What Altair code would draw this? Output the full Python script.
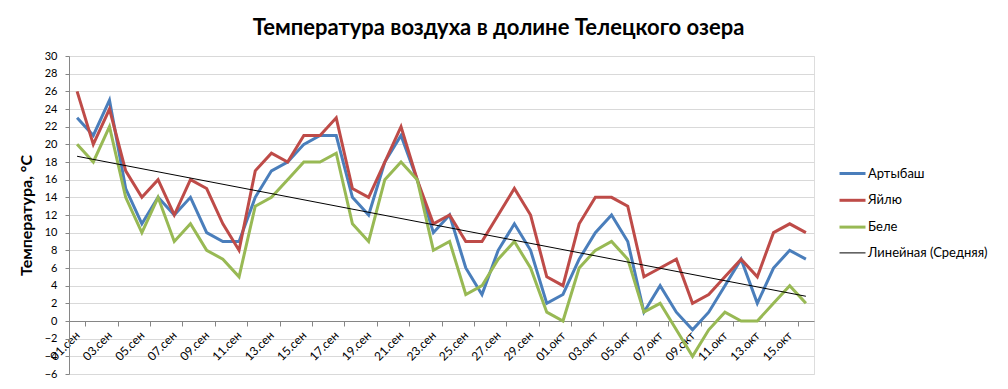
import altair as alt
import pandas as pd

dates = [
    "01.сен", "02.сен", "03.сен", "04.сен", "05.сен", "06.сен", "07.сен", "08.сен",
    "09.сен", "10.сен", "11.сен", "12.сен", "13.сен", "14.сен", "15.сен", "16.сен",
    "17.сен", "18.сен", "19.сен", "20.сен", "21.сен", "22.сен", "23.сен", "24.сен",
    "25.сен", "26.сен", "27.сен", "28.сен", "29.сен", "30.сен",
    "01.окт", "02.окт", "03.окт", "04.окт", "05.окт", "06.окт", "07.окт", "08.окт",
    "09.окт", "10.окт", "11.окт", "12.окт", "13.окт", "14.окт", "15.окт", "16.окт",
]

artybash = [23, 21, 25, 15, 11, 14, 12, 14, 10, 9, 9, 14, 17, 18, 20, 21, 21,
            14, 12, 18, 21, 16, 10, 12, 6, 3, 8, 11, 8, 2, 3, 7, 10, 12, 9, 1, 4,
            1, -1, 1, 4, 7, 2, 6, 8, 7]
yailyu = [26, 20, 24, 17, 14, 16, 12, 16, 15, 11, 8, 17, 19, 18, 21, 21, 23,
          15, 14, 18, 22, 16, 11, 12, 9, 9, 12, 15, 12, 5, 4, 11, 14, 14, 13, 5, 6,
          7, 2, 3, 5, 7, 5, 10, 11, 10]
bele = [20, 18, 22, 14, 10, 14, 9, 11, 8, 7, 5, 13, 14, 16, 18, 18, 19,
        11, 9, 16, 18, 16, 8, 9, 3, 4, 7, 9, 6, 1, 0, 6, 8, 9, 7, 1, 2,
        -1, -4, -1, 1, 0, 0, 2, 4, 2]

series_names = ["Артыбаш", "Яйлю", "Беле", "Линейная (Средняя)"]
series_colors = ["#4A7EBB", "#BE4B48", "#98B954", "#000000"]
series_widths = [3, 3, 3, 1]
y_ticks = list(range(-6, 31, 2))
x_tick_labels = dates[::2]

rows = []
for name, vals in zip(series_names[:3], [artybash, yailyu, bele]):
    for i, (d, v) in enumerate(zip(dates, vals)):
        rows.append({"idx": i, "date": d, "series": name, "value": v})
df = pd.DataFrame(rows)
idx_df = pd.DataFrame({"idx": list(range(len(dates))), "date": dates})

W, H = 745, 318
ymin, ymax = -6, 30
zero_from_bottom = H * (0 - ymin) / (ymax - ymin)

FONT = "Lato"

x_enc = alt.X(
    "date:O",
    bandPosition=0.5,
    scale=alt.Scale(type="band", domain=dates, paddingInner=0, paddingOuter=0),
    axis=alt.Axis(
        values=x_tick_labels,
        tickBand="extent",
        offset=-zero_from_bottom,
        labelAngle=-45,
        labelAlign="right",
        labelBaseline="middle",
        labelFont=FONT,
        labelFontSize=12,
        labelColor="#000000",
        labelPadding=7,
        tickSize=5,
        tickColor="#868686",
        domainColor="#868686",
        grid=False,
        title=None,
    ),
)

y_enc = alt.Y(
    "value:Q",
    scale=alt.Scale(domain=[ymin, ymax], nice=False, zero=False),
    axis=alt.Axis(
        values=y_ticks,
        grid=True,
        gridColor="#D9D9D9",
        domainColor="#868686",
        tickColor="#868686",
        tickSize=4,
        labelPadding=8,
        labelFont=FONT,
        labelFontSize=11,
        labelColor="#000000",
        title="Температура, °C",
        titleFont=FONT,
        titleFontSize=16,
        titleFontWeight="bold",
        titleColor="#000000",
        titlePadding=10,
    ),
)

legend = alt.Legend(
    title=None,
    orient="none",
    legendX=769,
    legendY=103,
    padding=0,
    symbolType="stroke",
    symbolSize=676,
    labelFont=FONT,
    labelFontSize=13,
    labelColor="#000000",
    labelOffset=1,
    rowPadding=4.8,
)

color_enc = alt.Color(
    "series:N",
    scale=alt.Scale(domain=series_names, range=series_colors),
    legend=legend,
)
width_enc = alt.StrokeWidth(
    "series:N",
    scale=alt.Scale(type="ordinal", domain=series_names, range=series_widths),
    legend=legend,
)

lines = alt.Chart(df).mark_line(strokeJoin="miter").encode(
    x=x_enc, y=y_enc, color=color_enc, strokeWidth=width_enc,
    detail="series:N",
)

trend = (
    alt.Chart(df)
    .transform_aggregate(avg="mean(value)", groupby=["idx"])
    .transform_regression("idx", "avg")
    .transform_lookup(
        lookup="idx",
        from_=alt.LookupData(data=idx_df, key="idx", fields=["date"]),
    )
    .transform_calculate(value="datum.avg", series="'Линейная (Средняя)'")
    .mark_line()
    .encode(x=x_enc, y=y_enc, color=color_enc, strokeWidth=width_enc)
)

chart = (
    alt.layer(lines, trend)
    .properties(
        width=W,
        height=H,
        padding={"left": 61, "top": 48, "right": 186, "bottom": 7},
        autosize=alt.AutoSizeParams(type="none"),
        title=alt.TitleParams(
            "Температура воздуха в долине Телецкого озера",
            font=FONT,
            fontSize=22,
            fontWeight="bold",
            color="#000000",
            anchor="middle",
            dx=57,
            offset=10,
        ),
    )
    .configure_view(stroke=None)
    .configure(background="white")
)

chart.save("out.html", embed_options={"renderer": "svg", "actions": False})
